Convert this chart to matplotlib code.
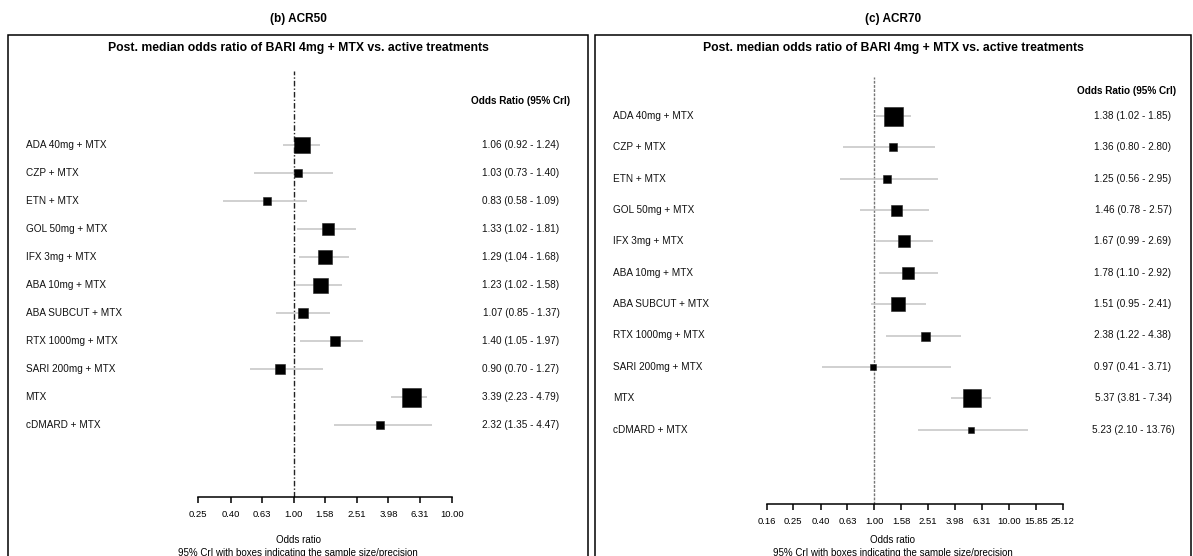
import matplotlib
matplotlib.use("Agg")
import matplotlib.pyplot as plt
from matplotlib.patches import Rectangle
from matplotlib.ticker import NullLocator
from matplotlib.transforms import blended_transform_factory

W, H = 1193, 556
plt.rcParams['font.family'] = ['Liberation Sans Narrow', 'Liberation Sans', 'DejaVu Sans']

treatments = ["ADA 40mg + MTX", "CZP + MTX", "ETN + MTX", "GOL 50mg + MTX",
              "IFX 3mg + MTX", "ABA 10mg + MTX", "ABA SUBCUT + MTX",
              "RTX 1000mg + MTX", "SARI 200mg + MTX", "MTX", "cDMARD + MTX"]

# (b) ACR50 - positions as drawn in the figure
est50 = [1.13, 1.07, 0.68, 1.65, 1.57, 1.46, 1.15, 1.83, 0.82, 5.49, 3.53]
lo50 = [0.86, 0.56, 0.36, 1.05, 1.08, 1.03, 0.77, 1.10, 0.53, 4.15, 1.80]
hi50 = [1.47, 1.77, 1.21, 2.47, 2.23, 2.02, 1.69, 2.73, 1.53, 6.95, 7.49]
box50 = [16.7, 8.7, 8.3, 12.7, 13.7, 15.0, 10.7, 10.7, 9.7, 19.0, 8.0]
text50 = ["1.06 (0.92 - 1.24)", "1.03 (0.73 - 1.40)", "0.83 (0.58 - 1.09)",
          "1.33 (1.02 - 1.81)", "1.29 (1.04 - 1.68)", "1.23 (1.02 - 1.58)",
          "1.07 (0.85 - 1.37)", "1.40 (1.05 - 1.97)", "0.90 (0.70 - 1.27)",
          "3.39 (2.23 - 4.79)", "2.32 (1.35 - 4.47)"]
ticks50 = [0.25, 0.40, 0.63, 1.00, 1.58, 2.51, 3.98, 6.31, 10.00]

# (c) ACR70
est70 = [1.37, 1.37, 1.24, 1.46, 1.66, 1.79, 1.50, 2.37, 0.97, 5.35, 5.23]
lo70 = [1.02, 0.58, 0.56, 0.78, 1.02, 1.08, 0.94, 1.21, 0.41, 3.73, 2.12]
hi70 = [1.88, 2.81, 2.95, 2.56, 2.74, 2.95, 2.44, 4.44, 3.71, 7.31, 13.78]
box70 = [19.0, 8.3, 8.3, 11.0, 12.0, 12.3, 13.3, 9.0, 6.7, 17.7, 6.3]
text70 = ["1.38 (1.02 - 1.85)", "1.36 (0.80 - 2.80)", "1.25 (0.56 - 2.95)",
          "1.46 (0.78 - 2.57)", "1.67 (0.99 - 2.69)", "1.78 (1.10 - 2.92)",
          "1.51 (0.95 - 2.41)", "2.38 (1.22 - 4.38)", "0.97 (0.41 - 3.71)",
          "5.37 (3.81 - 7.34)", "5.23 (2.10 - 13.76)"]
ticks70 = [0.16, 0.25, 0.40, 0.63, 1.00, 1.58, 2.51, 3.98, 6.31, 10.00, 15.85, 25.12]

inner_title = "Post. median odds ratio of BARI 4mg + MTX vs. active treatments"


def fx(px):
    return px / W


def fy(py):
    return 1 - py / H


def draw_panel(fig, title, est, lo, hi, boxes, texts, ticks, lay):
    """Draw one forest plot panel; lay holds pixel positions."""
    # outer frame (bottom edge is cut off in the original)
    fig.add_artist(Rectangle((fx(lay['box_l']), -0.1), fx(lay['box_r']) - fx(lay['box_l']),
                             fy(34.5) + 0.1, transform=fig.transFigure,
                             fill=False, lw=1.1, ec='black'))
    fig.text(fx(lay['cx']), fy(19), title, ha='center', va='center',
             fontsize=8.5, fontweight='bold')
    fig.text(fx(lay['cx']), fy(47.5), inner_title, ha='center', va='center',
             fontsize=8.8, fontweight='bold')

    x0, x1, y0, y1 = lay['ax_l'], lay['ax_r'], lay['ax_t'], lay['ax_b']
    ax = fig.add_axes([fx(x0), fy(y1), (x1 - x0) / W, (y1 - y0) / H])
    ax.patch.set_alpha(0)
    ax.set_xscale('log')
    ax.set_xlim(ticks[0], ticks[-1])
    r0, st = lay['row0'], lay['step']
    ax.set_ylim((y1 - r0) / st, (y0 - r0) / st)

    ax.axvline(1, color=lay['ref_color'], lw=1.0, ls=lay['ref_ls'], zorder=1)

    for i in range(len(est)):
        ax.plot([lo[i], hi[i]], [i, i], color='#c4c4c4', lw=1.1, zorder=2,
                solid_capstyle='butt', clip_on=False)
        ax.plot(est[i], i, marker='s', color='black', ms=boxes[i] * 0.72,
                mec='#222222', mew=0.4, zorder=3, clip_on=False)

    trans = blended_transform_factory(fig.transFigure, ax.transData)
    for i, name in enumerate(treatments):
        ax.text(fx(lay['lab_x']), i, name, transform=trans, ha='left',
                va='center', fontsize=7.2, color='#111111')
        ax.text(fx(lay['val_x']), i, texts[i], transform=trans, ha='center',
                va='center', fontsize=7.2, color='#111111')
    fig.text(fx(lay['head_x']), fy(lay['head_y']), "Odds Ratio (95% CrI)",
             ha='center', va='center', fontsize=7.2, fontweight='bold')

    for s in ['top', 'left', 'right']:
        ax.spines[s].set_visible(False)
    ax.spines['bottom'].set_bounds(ticks[0], ticks[-1])
    ax.spines['bottom'].set_linewidth(1.1)
    ax.set_xticks(ticks)
    ax.set_xticklabels([f"{t:.2f}" for t in ticks])
    ax.xaxis.set_minor_locator(NullLocator())
    ax.set_yticks([])
    ax.tick_params(axis='x', direction='out', length=4.5, width=1.1, pad=5,
                   labelsize=6.8)

    fig.text(fx(lay['cx']), fy(540), "Odds ratio", ha='center', va='center',
             fontsize=7)
    fig.text(fx(lay['cx']), fy(553), "95% CrI with boxes indicating the sample size/precision",
             ha='center', va='center', fontsize=7)


fig = plt.figure(figsize=(W / 100, H / 100), dpi=100)

left = dict(box_l=8, box_r=588, cx=298, ax_l=198.3, ax_r=451.7, ax_t=71, ax_b=497,
            row0=144.7, step=28.03, lab_x=25.5, val_x=521, head_x=521, head_y=101.5,
            ref_color='#222222', ref_ls=(0, (4, 1.5, 1, 1.5)))
right = dict(box_l=595, box_r=1191, cx=893, ax_l=767.3, ax_r=1062.7, ax_t=77, ax_b=504,
             row0=115.7, step=31.4, lab_x=613, val_x=1133, head_x=1127, head_y=90.5,
             ref_color='#777777', ref_ls=(0, (2, 1)))

draw_panel(fig, "(b) ACR50", est50, lo50, hi50, box50, text50, ticks50, left)
draw_panel(fig, "(c) ACR70", est70, lo70, hi70, box70, text70, ticks70, right)

fig.savefig("out.png", dpi=100)
